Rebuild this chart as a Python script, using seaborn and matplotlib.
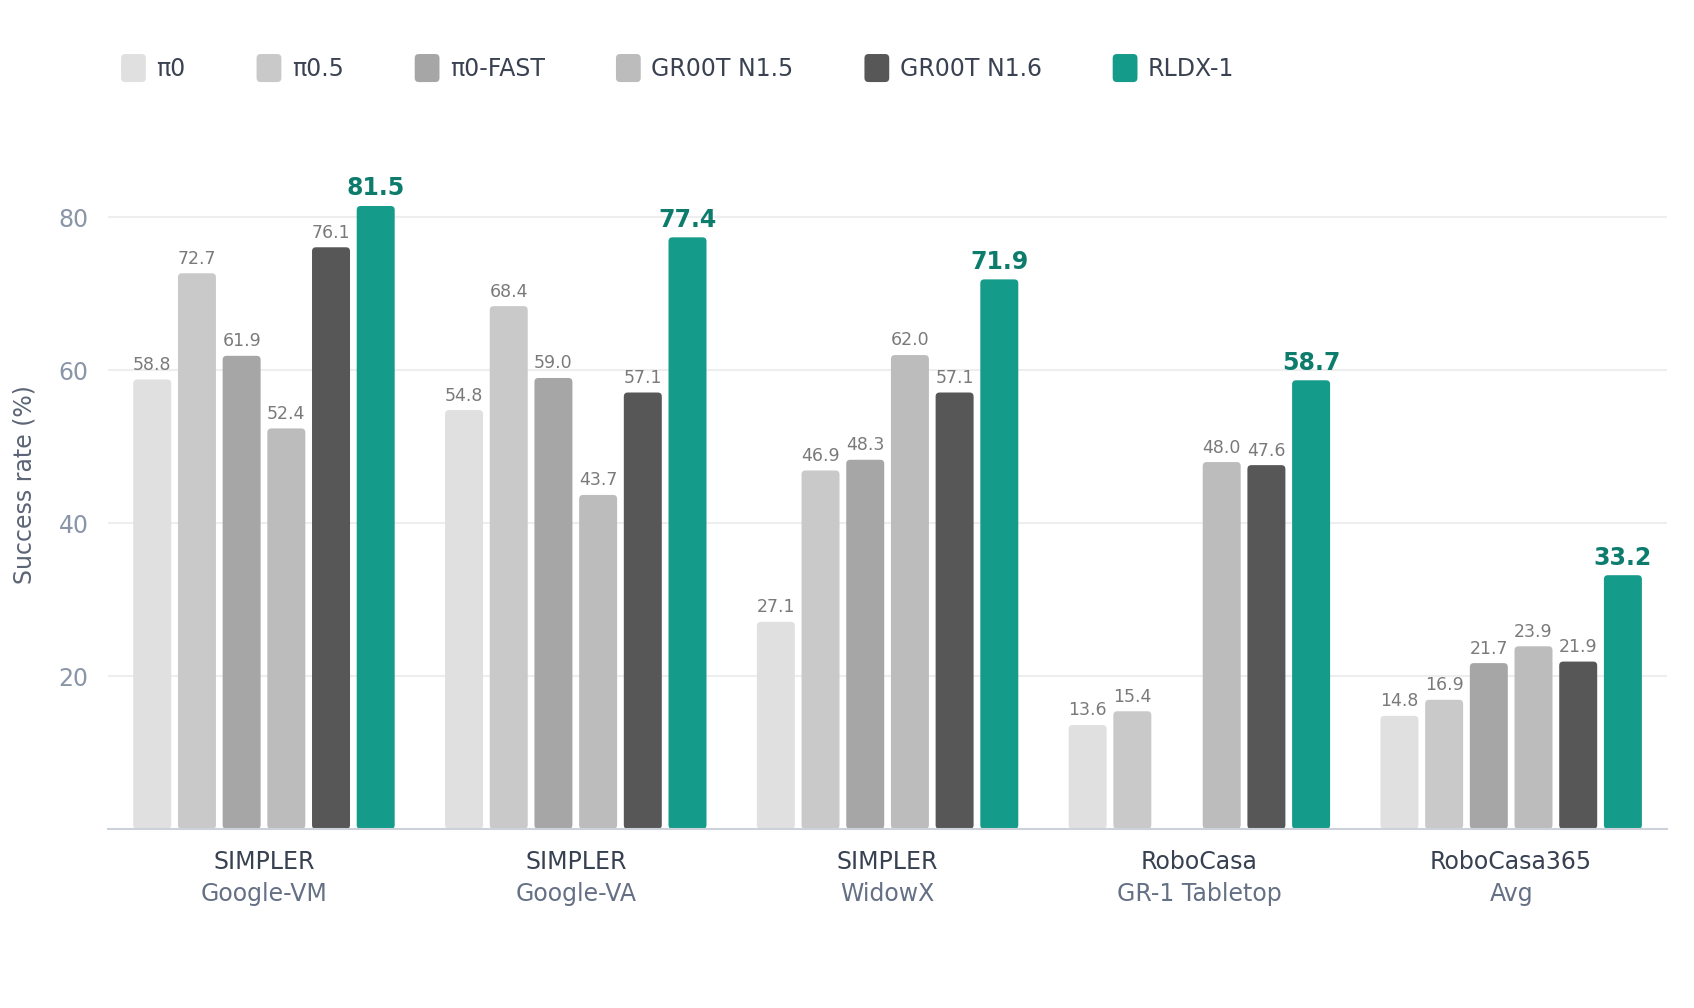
import numpy as np
import pandas as pd
import matplotlib
matplotlib.use("Agg")
import matplotlib.pyplot as plt
import seaborn as sns
from matplotlib.patches import FancyBboxPatch, Patch
from matplotlib.legend_handler import HandlerPatch

bench_top = ["SIMPLER", "SIMPLER", "SIMPLER", "RoboCasa", "RoboCasa365"]
bench_sub = ["Google-VM", "Google-VA", "WidowX", "GR-1 Tabletop", "Avg"]
models = ["π0", "π0.5", "π0-FAST", "GR00T N1.5", "GR00T N1.6", "RLDX-1"]

pi0 = [58.8, 54.8, 27.1, 13.6, 14.8]
pi05 = [72.7, 68.4, 46.9, 15.4, 16.9]
pi0_fast = [61.9, 59.0, 48.3, np.nan, 21.7]
groot_n15 = [52.4, 43.7, 62.0, 48.0, 23.9]
groot_n16 = [76.1, 57.1, 57.1, 47.6, 21.9]
rldx1 = [81.5, 77.4, 71.9, 58.7, 33.2]

colors = ["#e0e0e0", "#c9c9c9", "#a6a6a6", "#bcbcbc", "#575757", "#159b8a"]

series = [pi0, pi05, pi0_fast, groot_n15, groot_n16, rldx1]
rows = []
for m, vals in zip(models, series):
    for b, v in zip(bench_sub, vals):
        rows.append({"bench": b, "model": m, "value": v})
df = pd.DataFrame(rows)

sns.set_theme(style="white")
plt.rcParams["font.family"] = ["DejaVu Sans"]

fig = plt.figure(figsize=(16.94, 10.08), dpi=100)
ax = fig.add_axes([0.0638, 0.1776, 0.9203, 0.6825])

sns.barplot(data=df, x="bench", y="value", hue="model", order=bench_sub,
            hue_order=models, palette=colors, width=0.86, gap=0.15,
            ax=ax, legend=False, saturation=1)

ax.set_xlim(-0.5, 4.5)
ax.set_ylim(0, 90)

# rounded bars
fig.canvas.draw()
bb = ax.get_window_extent()
px_x = bb.width / 5.0
px_y = bb.height / 90.0
aspect = px_x / px_y
rad = 4.0 / px_x
for cont in ax.containers:
    for p in cont.patches:
        h = p.get_height()
        if np.isnan(h):
            continue
        fb = FancyBboxPatch((p.get_x(), 0), p.get_width(), h,
                            boxstyle=f"round,pad=0,rounding_size={rad}",
                            mutation_aspect=aspect, fc=p.get_facecolor(),
                            ec="none", zorder=2)
        ax.add_patch(fb)
        p.set_visible(False)

# value labels
for i, cont in enumerate(ax.containers):
    last = i == len(ax.containers) - 1
    for p in cont.patches:
        h = p.get_height()
        if np.isnan(h):
            continue
        ax.annotate(f"{h:.1f}", (p.get_x() + p.get_width() / 2, h),
                    xytext=(0, 4), textcoords="offset points",
                    ha="center", va="bottom",
                    fontsize=17 if last else 12.5,
                    fontweight="bold" if last else "normal",
                    color="#0e7c6d" if last else "#7a7a7a")

# axes styling
ax.set_yticks([20, 40, 60, 80])
ax.tick_params(axis="y", length=0, labelsize=17, labelcolor="#8a96a8", pad=14)
ax.tick_params(axis="x", length=0)
ax.set_xticks(range(5))
ax.set_xticklabels([])
ax.set_xlabel("")
ax.set_ylabel("Success rate (%)", fontsize=17, color="#5b6576")
ax.yaxis.set_label_coords(-0.046, 0.5)
ax.grid(axis="y", color="#eeeeee", linewidth=1.5, zorder=0)
ax.set_axisbelow(True)
for s in ["top", "right", "left"]:
    ax.spines[s].set_visible(False)
ax.spines["bottom"].set_color("#cdd2da")
ax.spines["bottom"].set_linewidth(1.5)

for i, (t, s) in enumerate(zip(bench_top, bench_sub)):
    ax.annotate(t, (i, 0), xycoords=("data", "axes fraction"),
                xytext=(0, -24), textcoords="offset points",
                ha="center", va="center", fontsize=17, color="#374151")
    ax.annotate(s, (i, 0), xycoords=("data", "axes fraction"),
                xytext=(0, -47), textcoords="offset points",
                ha="center", va="center", fontsize=17, color="#657085")


def rounded_handle(legend, orig_handle, xdescent, ydescent, width, height, fontsize):
    return FancyBboxPatch((-xdescent, -ydescent), width, height,
                          boxstyle="round,pad=0,rounding_size=3")


handles = [Patch(facecolor=c, edgecolor="none") for c in colors]
leg = fig.legend(handles, models, loc="center left", bbox_to_anchor=(0.0645, 0.9325),
                 ncol=6, frameon=False, fontsize=17, handlelength=1.05,
                 handleheight=1.45, handletextpad=0.45, columnspacing=3.0,
                 borderpad=0,
                 handler_map={Patch: HandlerPatch(patch_func=rounded_handle)})
for txt in leg.get_texts():
    txt.set_color("#3a4252")

fig.savefig("out.png", dpi=100, facecolor="white")
